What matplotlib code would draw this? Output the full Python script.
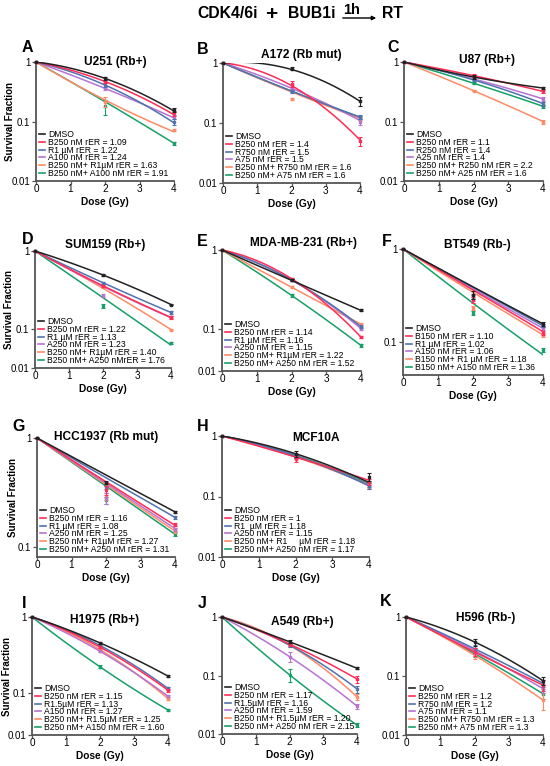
import numpy as np
import matplotlib.pyplot as plt
from matplotlib.lines import Line2D
from matplotlib.patches import FancyArrowPatch
from matplotlib.ticker import FixedLocator, NullLocator

plt.rcParams['font.family'] = ['Liberation Sans', 'DejaVu Sans']

W, H = 550, 766
doses = [0, 2, 4]
# order of every series list: DMSO, B, R, A, B+R, B+A
series_colors = ['#222222', '#ff2d55', '#4f72b0', '#b872d2', '#ff8a66', '#16a068']

# A  U251
u251_labels = ['DMSO', 'B250 nM rER = 1.09', 'R1 µM rER = 1.22', 'A100 nM rER = 1.24',
               'B250 nM+ R1µM rER = 1.63', 'B250 nM+ A100 nM rER = 1.91']
u251_sf2 = [0.53, 0.47, 0.41, 0.36, 0.215, 0.18]
u251_sf4 = [0.156, 0.137, 0.099, 0.12, 0.072, 0.043]
u251_err2 = [0.03, 0.03, 0.03, 0.02, 0.04, 0.05]
u251_err4 = [0.012, 0.015, 0.012, 0.01, 0.004, 0.003]
u251_fit2 = [0.53, 0.47, 0.41, 0.36, 0.23, 0.215]
u251_fit4 = [0.15, 0.13, 0.095, 0.115, 0.067, 0.043]

# B  A172
a172_labels = ['DMSO', 'B250 nM rER = 1.4', 'R750 nM rER = 1.5', 'A75 nM rER = 1.5',
               'B250 nM+ R750 nM rER = 1.6', 'B250 nM+ A75 nM rER = 1.6']
a172_sf2 = [0.80, 0.45, 0.34, 0.40, 0.25, 0.34]
a172_sf4 = [0.23, 0.05, 0.125, 0.105, 0.12, 0.125]
a172_err2 = [0.05, 0.05, 0.02, 0.03, 0.01, 0.01]
a172_err4 = [0.04, 0.008, 0.01, 0.012, 0.008, 0.008]
a172_fit2 = [0.78, 0.42, 0.34, 0.38, 0.33, 0.34]
a172_fit4 = [0.23, 0.052, 0.125, 0.11, 0.12, 0.125]

# C  U87
u87_labels = ['DMSO', 'B250 nM rER = 1.1', 'R250 nM rER = 1.4', 'A25 nM rER = 1.4',
              'B250 nM+ R250 nM rER = 2.2', 'B250 nM+ A25 nM rER = 1.6']
u87_sf2 = [0.56, 0.59, 0.50, 0.52, 0.33, 0.44]
u87_sf4 = [0.365, 0.32, 0.20, 0.24, 0.10, 0.18]
u87_err2 = [0.04, 0.03, 0.02, 0.02, 0.01, 0.02]
u87_err4 = [0.02, 0.02, 0.015, 0.015, 0.008, 0.01]
u87_fit2 = [0.56, 0.59, 0.50, 0.52, 0.33, 0.44]
u87_fit4 = [0.365, 0.32, 0.20, 0.24, 0.10, 0.18]

# D  SUM159
sum159_labels = ['DMSO', 'B250 nM rER = 1.22', 'R1 µM rER = 1.13', 'A250 nM rER = 1.23',
                 'B250 nM+ R1µM rER = 1.40', 'B250 nM+ A250 nMrER = 1.76']
sum159_sf2 = [0.49, 0.356, 0.39, 0.265, 0.346, 0.195]
sum159_sf4 = [0.204, 0.139, 0.161, 0.14, 0.094, 0.043]
sum159_err2 = [0.01, 0.01, 0.01, 0.01, 0.01, 0.01]
sum159_err4 = [0.005, 0.005, 0.005, 0.005, 0.004, 0.003]
sum159_fit2 = [0.49, 0.356, 0.39, 0.35, 0.33, 0.25]
sum159_fit4 = [0.204, 0.139, 0.161, 0.138, 0.094, 0.038]

# E  MDA-MB-231
mda_labels = ['DMSO', 'B250 nM rER = 1.14', 'R1 µM rER = 1.16', 'A250 nM rER = 1.15',
              'B250 nM+ R1µM rER = 1.22', 'B250 nM+ A250 nM rER = 1.52']
mda_sf2 = [0.415, 0.435, 0.42, 0.42, 0.34, 0.268]
mda_sf4 = [0.173, 0.065, 0.108, 0.102, 0.116, 0.041]
mda_err2 = [0.01, 0.015, 0.01, 0.01, 0.01, 0.01]
mda_err4 = [0.005, 0.004, 0.005, 0.005, 0.005, 0.003]
mda_fit2 = [0.415, 0.435, 0.42, 0.42, 0.34, 0.268]
mda_fit4 = [0.173, 0.065, 0.108, 0.102, 0.116, 0.041]

# F  BT549
bt549_labels = ['DMSO', 'B150 nM rER = 1.10', 'R1 µM rER = 1.02', 'A150 nM rER = 1.06',
                'B150 nM+ R1 µM rER = 1.18', 'B150 nM+ A150 nM rER = 1.36']
bt549_sf2 = [0.32, 0.28, 0.31, 0.295, 0.23, 0.205]
bt549_sf4 = [0.155, 0.125, 0.148, 0.139, 0.118, 0.081]
bt549_err2 = [0.03, 0.02, 0.02, 0.02, 0.01, 0.01]
bt549_err4 = [0.008, 0.006, 0.006, 0.006, 0.005, 0.004]
bt549_fit2 = [0.39, 0.36, 0.385, 0.37, 0.34, 0.26]
bt549_fit4 = [0.155, 0.128, 0.148, 0.139, 0.118, 0.072]

# G  HCC1937
hcc_labels = ['DMSO', 'B250 nM rER = 1.16', 'R1 µM rER = 1.08', 'A250 nM rER = 1.25',
              'B250 nM+ R1µM rER = 1.27', 'B250 nM+ A250 nM rER = 1.31']
hcc_sf2 = [0.39, 0.33, 0.353, 0.28, 0.29, 0.27]
hcc_sf4 = [0.21, 0.16, 0.187, 0.145, 0.14, 0.131]
hcc_err2 = [0.01, 0.03, 0.01, 0.03, 0.02, 0.02]
hcc_err4 = [0.005, 0.005, 0.005, 0.005, 0.005, 0.005]
hcc_fit2 = [0.458, 0.397, 0.432, 0.385, 0.374, 0.362]
hcc_fit4 = [0.21, 0.158, 0.187, 0.148, 0.14, 0.131]

# H  MCF10A
mcf_labels = ['DMSO', 'B250 nM rER = 1', 'R1  µM rER = 1.18', 'A250 nM rER = 1.15',
              'B250 nM+ R1     µM rER = 1.18', 'B250 nM+ A250 nM rER = 1.17']
mcf_sf2 = [0.51, 0.42, 0.46, 0.46, 0.44, 0.47]
mcf_sf4 = [0.21, 0.175, 0.15, 0.15, 0.155, 0.16]
mcf_err2 = [0.06, 0.05, 0.03, 0.03, 0.03, 0.03]
mcf_err4 = [0.03, 0.02, 0.015, 0.015, 0.015, 0.015]
mcf_fit2 = [0.51, 0.45, 0.47, 0.47, 0.45, 0.48]
mcf_fit4 = [0.17, 0.185, 0.15, 0.152, 0.155, 0.16]

# I  H1975
h1975_labels = ['DMSO', 'B250 nM rER = 1.15', 'R1.5µM rER = 1.13', 'A150 nM rER = 1.27',
                'B250 nM+ R1.5µM rER = 1.25', 'B250 nM+ A150 nM rER = 1.60']
h1975_sf2 = [0.455, 0.40, 0.42, 0.353, 0.37, 0.22]
h1975_sf4 = [0.166, 0.108, 0.114, 0.083, 0.073, 0.039]
h1975_err2 = [0.01, 0.01, 0.01, 0.01, 0.01, 0.01]
h1975_err4 = [0.005, 0.005, 0.005, 0.004, 0.004, 0.002]
h1975_fit2 = [0.455, 0.40, 0.42, 0.353, 0.37, 0.22]
h1975_fit4 = [0.166, 0.108, 0.114, 0.083, 0.073, 0.039]

# J  A549
a549_labels = ['DMSO', 'B250 nM rER = 1.17', 'R1.5µM rER = 1.16', 'A250 nM rER = 1.59',
               'B250 nM+ R1.5µM rER = 1.20', 'B250 nM+ A250 nM rER = 2.15']
a549_sf2 = [0.377, 0.344, 0.33, 0.21, 0.33, 0.103]
a549_sf4 = [0.133, 0.087, 0.059, 0.03, 0.043, 0.0142]
a549_err2 = [0.02, 0.02, 0.02, 0.04, 0.02, 0.025]
a549_err4 = [0.006, 0.012, 0.008, 0.003, 0.005, 0.001]
a549_fit2 = [0.377, 0.344, 0.33, 0.21, 0.33, 0.103]
a549_fit4 = [0.133, 0.087, 0.059, 0.03, 0.043, 0.0142]

# K  H596
h596_labels = ['DMSO', 'B250 nM rER = 1.2', 'R750 nM rER = 1.2', 'A75 nM rER = 1.1',
               'B250 nM+ R750 nM rER = 1.3', 'B250 nM+ A75 nM rER = 1.3']
h596_sf2 = [0.378, 0.256, 0.29, 0.27, 0.225, 0.24]
h596_sf4 = [0.083, 0.07, 0.075, 0.061, 0.039, 0.05]
h596_err2 = [0.05, 0.04, 0.04, 0.03, 0.03, 0.03]
h596_err4 = [0.012, 0.015, 0.01, 0.01, 0.012, 0.01]
h596_fit2 = [0.378, 0.256, 0.29, 0.27, 0.225, 0.24]
h596_fit4 = [0.083, 0.07, 0.075, 0.061, 0.039, 0.05]

panels = [
    ('A', 'U251 (Rb+)', u251_labels, u251_sf2, u251_sf4, u251_err2, u251_err4, u251_fit2, u251_fit4),
    ('B', 'A172 (Rb mut)', a172_labels, a172_sf2, a172_sf4, a172_err2, a172_err4, a172_fit2, a172_fit4),
    ('C', 'U87 (Rb+)', u87_labels, u87_sf2, u87_sf4, u87_err2, u87_err4, u87_fit2, u87_fit4),
    ('D', 'SUM159 (Rb+)', sum159_labels, sum159_sf2, sum159_sf4, sum159_err2, sum159_err4, sum159_fit2, sum159_fit4),
    ('E', 'MDA-MB-231 (Rb+)', mda_labels, mda_sf2, mda_sf4, mda_err2, mda_err4, mda_fit2, mda_fit4),
    ('F', 'BT549 (Rb-)', bt549_labels, bt549_sf2, bt549_sf4, bt549_err2, bt549_err4, bt549_fit2, bt549_fit4),
    ('G', 'HCC1937 (Rb mut)', hcc_labels, hcc_sf2, hcc_sf4, hcc_err2, hcc_err4, hcc_fit2, hcc_fit4),
    ('H', 'MCF10A', mcf_labels, mcf_sf2, mcf_sf4, mcf_err2, mcf_err4, mcf_fit2, mcf_fit4),
    ('I', 'H1975 (Rb+)', h1975_labels, h1975_sf2, h1975_sf4, h1975_err2, h1975_err4, h1975_fit2, h1975_fit4),
    ('J', 'A549 (Rb+)', a549_labels, a549_sf2, a549_sf4, a549_err2, a549_err4, a549_fit2, a549_fit4),
    ('K', 'H596 (Rb-)', h596_labels, h596_sf2, h596_sf4, h596_err2, h596_err4, h596_fit2, h596_fit4),
]

# layout in pixels: axes box (left, top, right, bottom), title centre, letter pos
boxes = {'A': (36, 62, 174, 181), 'B': (223, 63, 360, 183), 'C': (404, 62, 543, 181),
         'D': (35, 251, 171, 368), 'E': (222, 250, 361, 371), 'F': (403, 249, 543, 375),
         'G': (37, 438, 175, 557), 'H': (222, 436, 369, 557),
         'I': (32, 617, 168, 735), 'J': (222, 617, 357, 734), 'K': (406, 617, 543, 735)}
title_pos = {'A': (115, 62), 'B': (301, 55), 'C': (487, 60), 'D': (105, 245), 'E': (303, 243),
             'F': (477, 245), 'G': (106, 437), 'H': (316, 438), 'I': (105, 620), 'J': (302, 622),
             'K': (486, 618)}
letter_pos = {'A': (22, 48), 'B': (197, 50), 'C': (387, 48), 'D': (22, 239), 'E': (197, 242),
              'F': (382, 241), 'G': (12, 427), 'H': (197, 427), 'I': (22, 603), 'J': (198, 603),
              'K': (380, 601)}
ybottom = {'F': 0.0435, 'G': 0.081}
segmented = {'D': 0.509, 'E': 0.525, 'I': 0.557}
ylabel_x = {'A': 10, 'D': 9, 'G': 13, 'I': 7}


def seg_scale(k):
    def fwd(y):
        t = np.log10(np.clip(np.asarray(y, float), 1e-12, None))
        return np.where(t >= -1, t, -1 + k * (t + 1))

    def inv(t):
        t = np.asarray(t, float)
        return np.where(t >= -1, 10.0 ** t, 10.0 ** (-1 + (t + 1) / k))
    return fwd, inv


def log_scale():
    return (lambda y: np.log10(np.clip(np.asarray(y, float), 1e-12, None)),
            lambda t: 10.0 ** np.asarray(t, float))


fig = plt.figure(figsize=(W / 100, H / 100), dpi=100)
axis_col = '#555555'
dd = np.linspace(0, 4, 80)

for key, title, labels, sf2, sf4, e2, e4, f2, f4 in panels:
    l, t, r, b = boxes[key]
    ax = fig.add_axes([l / W, 1 - b / H, (r - l) / W, (b - t) / H])
    if key in segmented:
        fwd, inv = seg_scale(segmented[key])
        ax.set_yscale('function', functions=(fwd, inv))
    else:
        fwd, inv = log_scale()
        ax.set_yscale('log')

    for i in reversed(range(6)):
        c = series_colors[i]
        # quadratic (linear-quadratic model) through the fitted values in axis space
        coef = np.polyfit(doses, fwd([1.0, f2[i], f4[i]]), 2)
        ax.plot(dd, inv(np.polyval(coef, dd)), color=c, lw=1.1, zorder=2 + 6 - i)
        ax.errorbar(doses, [1.0, sf2[i], sf4[i]], yerr=[0, e2[i], e4[i]], fmt='s', ms=2.1,
                    color=c, ecolor=c, elinewidth=0.8, capsize=1.3, capthick=0.8,
                    clip_on=False, zorder=3 + 6 - i)

    bottom = ybottom.get(key, 0.01)
    ax.set_ylim(bottom, 1.0)
    ax.set_xlim(0, 4)
    yt = [v for v in [0.01, 0.1, 1] if v >= bottom]
    ax.yaxis.set_major_locator(FixedLocator(yt))
    ax.yaxis.set_minor_locator(NullLocator())
    ax.set_yticklabels([{0.01: '0.01', 0.1: '0.1', 1: '1'}[v] for v in yt])
    ax.set_xticks([0, 1, 2, 3, 4])
    for s in ['top', 'right']:
        ax.spines[s].set_visible(False)
    for s in ['left', 'bottom']:
        ax.spines[s].set_color(axis_col)
        ax.spines[s].set_linewidth(1.3)
    ax.tick_params(axis='y', length=3, width=0.9, pad=1, labelsize=7.0, color=axis_col)
    ax.tick_params(axis='x', length=2, width=0.9, pad=0.5, labelsize=7.2, color=axis_col)
    ax.set_xlabel('Dose (Gy)', fontsize=7.3, fontweight='bold', labelpad=1.5)

    handles = [Line2D([], [], color=c, lw=1.2) for c in series_colors]
    ax.legend(handles, labels, loc='lower left', bbox_to_anchor=(0.0, 0.0), frameon=False,
              fontsize=6.2, handlelength=0.7, handletextpad=0.4, labelspacing=-0.12,
              borderpad=0.2, borderaxespad=0.1)

    tx, ty = title_pos[key]
    fig.text(tx / W, 1 - ty / H, title, ha='center', va='center', fontsize=8.6, fontweight='bold')
    lx, ly = letter_pos[key]
    fig.text(lx / W, 1 - ly / H, key, ha='left', va='center', fontsize=11.5, fontweight='bold')
    if key in ylabel_x:
        fig.text(ylabel_x[key] / W, 1 - (t + b) / 2 / H, 'Survival Fraction', rotation=90,
                 ha='center', va='center', fontsize=7, fontweight='bold')

# header
fig.text(197 / W, 1 - 14 / H, 'CDK4/6i', ha='left', va='center', fontsize=11.3, fontweight='bold')
fig.text(271 / W, 1 - 14 / H, '+', ha='center', va='center', fontsize=15, fontweight='bold')
fig.text(288 / W, 1 - 14 / H, 'BUB1i', ha='left', va='center', fontsize=11.3, fontweight='bold')
fig.text(352 / W, 1 - 10 / H, '1h', ha='center', va='center', fontsize=10.5, fontweight='bold')
fig.add_artist(FancyArrowPatch((340 / W, 1 - 18 / H), (379 / W, 1 - 18 / H),
                               transform=fig.transFigure, arrowstyle='-|>',
                               mutation_scale=6, lw=1.0, color='black'))
fig.text(382 / W, 1 - 14 / H, 'RT', ha='left', va='center', fontsize=11.3, fontweight='bold')

fig.savefig('out.png', dpi=100)
